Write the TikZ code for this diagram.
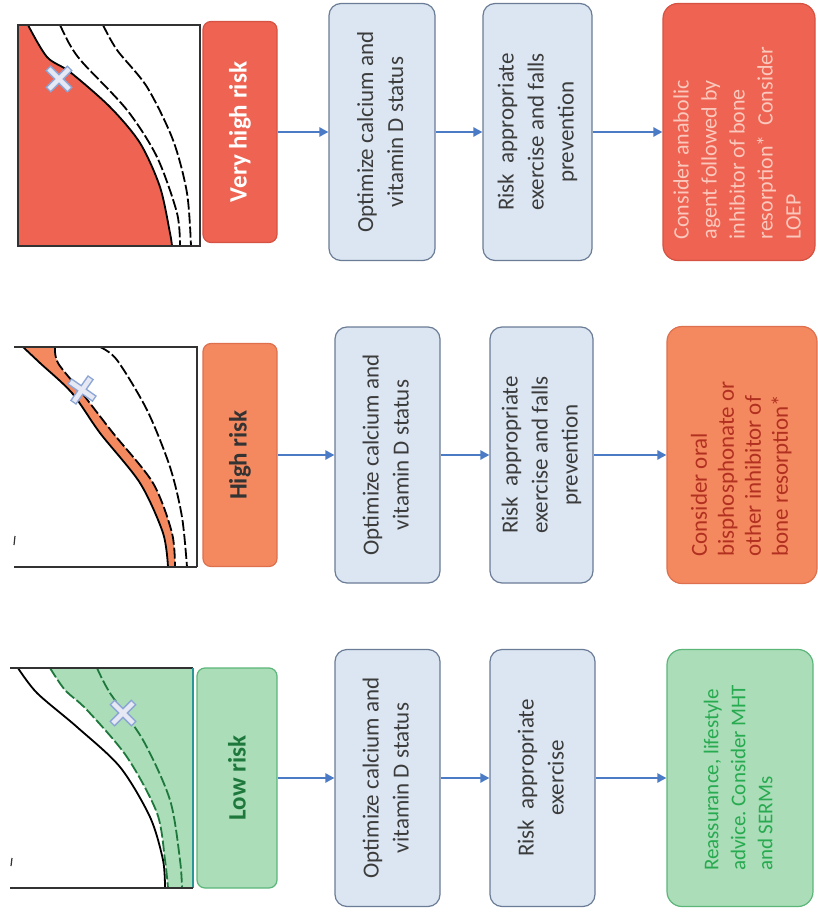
\documentclass[tikz,border=0pt]{standalone}
\usepackage{fontspec}
\setmainfont{Carlito}
\usetikzlibrary{arrows.meta}
\frenchspacing

\definecolor{redfill}{RGB}{238,99,82}
\definecolor{rededge}{RGB}{214,82,66}
\definecolor{redtext}{RGB}{250,200,188}
\definecolor{orangefill}{RGB}{244,137,96}
\definecolor{orangeedge}{RGB}{222,112,78}
\definecolor{orangetext}{RGB}{178,48,32}
\definecolor{greenfill}{RGB}{170,221,184}
\definecolor{greenedge}{RGB}{92,182,122}
\definecolor{greentext}{RGB}{40,170,80}
\definecolor{greendark}{RGB}{30,120,60}
\definecolor{bluefill}{RGB}{220,230,242}
\definecolor{blueedge}{RGB}{106,124,150}
\definecolor{arrowblue}{RGB}{74,123,196}
\definecolor{txtgray}{RGB}{60,60,60}
\definecolor{axisgray}{RGB}{50,50,50}
\definecolor{crossfill}{RGB}{230,232,244}
\definecolor{crossedge}{RGB}{140,165,214}
\definecolor{tealedge}{RGB}{40,150,150}

\tikzset{
  box/.style={draw, line width=1.2pt, inner sep=0pt, rounded corners=12pt},
  bluebox/.style={box, fill=bluefill, draw=blueedge, text=txtgray,
    font=\fontsize{23}{30}\selectfont},
  labelbox/.style={box, rounded corners=8pt, font=\bfseries\fontsize{25}{30}\selectfont},
  finalbox/.style={box, rounded corners=15pt},
  conn/.style={-{Triangle[length=9pt,width=9pt]}, line width=2.8pt, draw=arrowblue},
  axisline/.style={line width=1.3pt, draw=axisgray},
  solidcurve/.style={line width=1.8pt, draw=black},
  dashcurve/.style={line width=1.8pt, draw=black, dash pattern=on 11pt off 3pt},
  xmark/.pic={
    \draw[line width=7.5pt, crossedge] (-11,-11) -- (11,11) (-11,11) -- (11,-11);
    \draw[line width=4.5pt, crossfill] (-10,-10) -- (10,10) (-10,10) -- (10,-10);
  }
}

\begin{document}
\begin{tikzpicture}[x=1pt, y=-1pt]
\useasboundingbox (0,0) rectangle (817,915);
\fill[white] (0,0) rectangle (817,915);

% ---------------- very high risk chart ----------------
\fill[redfill] (18,25) -- plot[smooth] coordinates {(28,25) (47,57) (70,72) (110,107) (140,143) (160,187) (170,233) (172,246)} -- (18,246) -- cycle;
\draw[solidcurve] plot[smooth] coordinates {(28,25) (47,57) (70,72) (110,107) (140,143) (160,187) (170,233) (172,246)};
\draw[dashcurve] plot[smooth] coordinates {(60,25) (70,45) (83,63) (127,110) (157,157) (177,213) (180,246)};
\draw[dashcurve] plot[smooth] coordinates {(103,25) (117,50) (147,87) (173,140) (187,193) (191,246)};
\draw[axisline] (18,25) rectangle (200,246);
\pic at (59,79) {xmark};

% ---------------- high risk chart ----------------
\fill[orangefill] plot[smooth] coordinates {(23,347) (40,363) (72,393) (100,433) (140,483) (163,533) (168,567)}
  -- plot[smooth] coordinates {(175,567) (172,533) (153,483) (113,433) (82,393) (58,363) (55,347)} -- cycle;
\draw[solidcurve] plot[smooth] coordinates {(23,347) (40,363) (72,393) (100,433) (140,483) (163,533) (168,567)};
\draw[dashcurve] plot[smooth] coordinates {(55,347) (58,363) (82,393) (113,433) (153,483) (172,533) (175,567)};
\draw[dashcurve] plot[smooth] coordinates {(100,347) (117,360) (147,410) (170,467) (182,517) (187,567)};
\draw[axisline] (14,347) -- (197,347) -- (197,567);
\draw[axisline, line width=2pt] (14,567) -- (197,567);
\draw[line width=1.2pt, axisgray] (15,536) -- (14,545);
\pic[rotate=10] at (82,390) {xmark};

% ---------------- low risk chart ----------------
\fill[greenfill] plot[smooth] coordinates {(50,668) (65,690) (87,710) (127,757) (157,813) (165,860) (168,888)}
  -- (193,888) -- (193,668) -- cycle;
\draw[solidcurve] plot[smooth] coordinates {(18,668) (37,693) (77,727) (120,767) (150,817) (163,860) (165,888)};
\draw[dashcurve, draw=greendark] plot[smooth] coordinates {(50,668) (65,690) (87,710) (127,757) (157,813) (165,860) (168,888)};
\draw[dashcurve, draw=greendark] plot[smooth] coordinates {(97,668) (110,693) (143,740) (170,800) (180,860) (182,888)};
\draw[axisline] (10,668) -- (193,668);
\draw[axisline, draw=tealedge] (193,668) -- (193,888);
\draw[axisline, line width=2pt] (10,888) -- (193,888);
\draw[line width=1.2pt, axisgray] (12,858) -- (11,866);
\pic at (123,713) {xmark};

% ---------------- very high risk pathway ----------------
\node[labelbox, fill=redfill, draw=rededge, text=white, minimum width=74pt, minimum height=221pt]
  (lab1) at (240,132) {\rotatebox{90}{Very high risk}};
\node[bluebox, minimum width=106pt, minimum height=257pt] (opt1) at (382,132)
  {\rotatebox{90}{\begin{tabular}{@{}c@{}}Optimize calcium and\\vitamin D status\end{tabular}}};
\node[bluebox, minimum width=109pt, minimum height=257pt] (ex1) at (537.5,132)
  {\rotatebox{90}{\begin{tabular}{@{}c@{}}Risk\ \ appropriate\\exercise and falls\\prevention\end{tabular}}};
\node[finalbox, fill=redfill, draw=rededge, text=redtext, font=\fontsize{22}{28}\selectfont,
  minimum width=152pt, minimum height=257pt] (tr1) at (739,132)
  {\rotatebox{90}{\begin{tabular}{@{}l@{}}Consider anabolic\\agent followed by\\inhibitor of bone\\resorption*\ \ Consider\\LOEP\end{tabular}\hspace{22pt}}};

% ---------------- high risk pathway ----------------
\node[labelbox, fill=orangefill, draw=orangeedge, text=black!80, minimum width=74pt, minimum height=223pt]
  (lab2) at (240,455) {\rotatebox{90}{High risk}};
\node[bluebox, minimum width=105pt, minimum height=256pt] (opt2) at (387.5,455)
  {\rotatebox{90}{\begin{tabular}{@{}c@{}}Optimize calcium and\\vitamin D status\end{tabular}}};
\node[bluebox, minimum width=103pt, minimum height=256pt] (ex2) at (541.5,455)
  {\rotatebox{90}{\begin{tabular}{@{}c@{}}Risk\ \ appropriate\\exercise and falls\\prevention\end{tabular}}};
\node[finalbox, fill=orangefill, draw=orangeedge, text=orangetext, font=\fontsize{23}{27}\selectfont,
  minimum width=150pt, minimum height=257pt] (tr2) at (742,455)
  {\rotatebox{90}{\begin{tabular}{@{}l@{}}Consider oral\\bisphosphonate or\\other inhibitor of\\bone resorption*\end{tabular}\hspace{28pt}}};

% ---------------- low risk pathway ----------------
\node[labelbox, fill=greenfill, draw=greenedge, text=greendark, minimum width=80pt, minimum height=220pt]
  (lab3) at (237,778) {\rotatebox{90}{Low risk}};
\node[bluebox, minimum width=105pt, minimum height=257pt] (opt3) at (387.5,778)
  {\rotatebox{90}{\begin{tabular}{@{}c@{}}Optimize calcium and\\vitamin D status\end{tabular}}};
\node[bluebox, minimum width=105pt, minimum height=257pt] (ex3) at (542.5,778)
  {\rotatebox{90}{\begin{tabular}{@{}c@{}}Risk\ \ appropriate\\exercise\end{tabular}}};
\node[finalbox, fill=greenfill, draw=greenedge, text=greentext, font=\fontsize{21}{27}\selectfont,
  minimum width=146pt, minimum height=257pt] (tr3) at (740,778)
  {\rotatebox{90}{\begin{tabular}{@{}l@{}}Reassurance, lifestyle\\advice. Consider MHT\\and SERMs\end{tabular}}};

% ---------------- connectors ----------------
\draw[conn] (lab1) -- (opt1);
\draw[conn] (opt1) -- (ex1);
\draw[conn] (ex1) -- (tr1);
\draw[conn] (lab2) -- (opt2);
\draw[conn] (opt2) -- (ex2);
\draw[conn] (ex2) -- (tr2);
\draw[conn] (lab3) -- (opt3);
\draw[conn] (opt3) -- (ex3);
\draw[conn] (ex3) -- (tr3);
\end{tikzpicture}
\end{document}
